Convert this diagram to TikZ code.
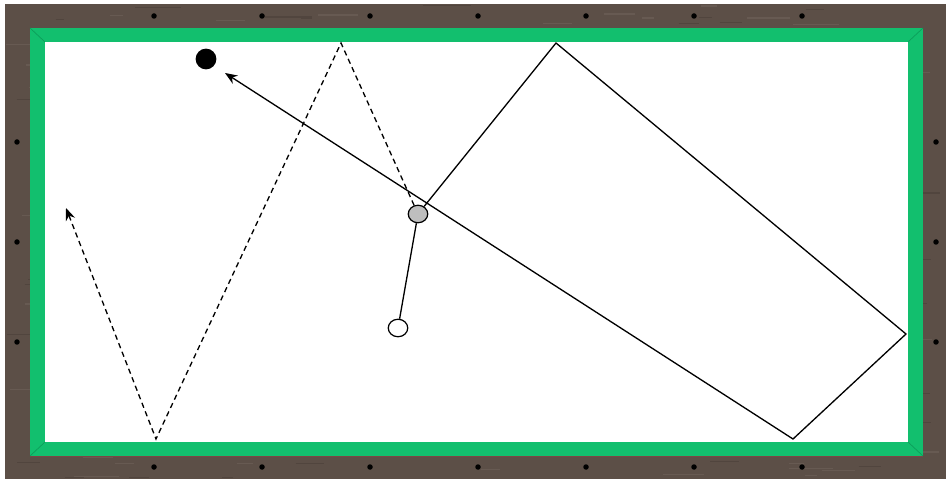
\documentclass[tikz,border=0pt]{standalone}
\usepackage{tikz}
\usetikzlibrary{arrows.meta, positioning, shapes.geometric}
\definecolor{tbwood}{HTML}{5C4F47}
\definecolor{tbwoodlt}{HTML}{7D7068}
\definecolor{tbwooddk}{HTML}{3E3530}
\definecolor{tbgreen}{HTML}{12BF6E}
\definecolor{tbgreendk}{HTML}{0C9E5A}
\definecolor{tbrail}{HTML}{7B4545}
\definecolor{tbgray}{HTML}{BEBEBE}

\begin{document}
\begin{tikzpicture}[
  x=0.02cm, y=-0.02cm,
  grain/.style={line width=0.7pt, opacity=0.35},
  sight/.style={circle, fill=black, minimum size=0.11cm, inner sep=0pt},
  ball/.style={ellipse, draw=black, line width=0.7pt, minimum width=0.39cm, minimum height=0.35cm, inner sep=0pt},
  track/.style={line width=0.75pt, -{Stealth[length=7pt, width=5.5pt]}},
  ghost/.style={track, dash pattern=on 3pt off 2.2pt},
]
\useasboundingbox (0,0) rectangle (946,479);

% Wooden rail
\fill[tbwood] (5,4) rectangle (946,479);
\pgfmathsetseed{17}
\foreach \k in {1,...,420}{
  \pgfmathsetmacro\gy{5+473*rnd}
  \pgfmathsetmacro\gx{5+900*rnd}
  \pgfmathsetmacro\gl{8+40*rnd}
  \pgfmathtruncatemacro\gc{mod(\k,2)}
  \ifnum\gc=0
    \draw[grain, tbwoodlt] (\gx,\gy) -- ({min(\gx+\gl,946)},\gy);
  \else
    \draw[grain, tbwooddk] (\gx,\gy) -- ({min(\gx+\gl,946)},\gy);
  \fi
}

% Cushion and cloth
\fill[tbgreen] (30,28) rectangle (923,456);
\draw[tbrail, line width=0.4pt] (30,456) -- (923,456);
\draw[tbgreendk, line width=0.4pt] (30,28) -- (45,42) (923,28) -- (908,42)
  (30,456) -- (45,442) (923,456) -- (908,442);
\fill[white] (45,42) rectangle (908,442);

% Sights
\foreach \k in {0,...,6}{
  \node[sight] (top\k) at ({154+108*\k},16) {};
  \node[sight] (bot\k) at ({154+108*\k},467) {};
}
\foreach \k in {1,2,3}{
  \node[sight] (left\k) at (17,{42+100*\k}) {};
  \node[sight] (right\k) at (936,{42+100*\k}) {};
}

% Balls
\node[ball, fill=black, minimum width=0.39cm, minimum height=0.39cm] (blackball) at (206,59) {};
\node[ball, fill=tbgray] (grayball) at (418,214) {};
\node[ball, fill=white] (whiteball) at (398,328) {};

% Cushion contacts
\coordinate (hitA) at (556,43);
\coordinate (hitB) at (906,334);
\coordinate (hitC) at (793,439);
\coordinate (endA) at (225,73);
\coordinate (hitD) at (341,43);
\coordinate (hitE) at (156,439);
\coordinate (endB) at (66,208);

\draw[line width=0.75pt] (whiteball) -- (grayball);
\draw[track] (grayball) -- (hitA) -- (hitB) -- (hitC) -- (endA);
\draw[ghost] (grayball) -- (hitD) -- (hitE) -- (endB);

\end{tikzpicture}
\end{document}
